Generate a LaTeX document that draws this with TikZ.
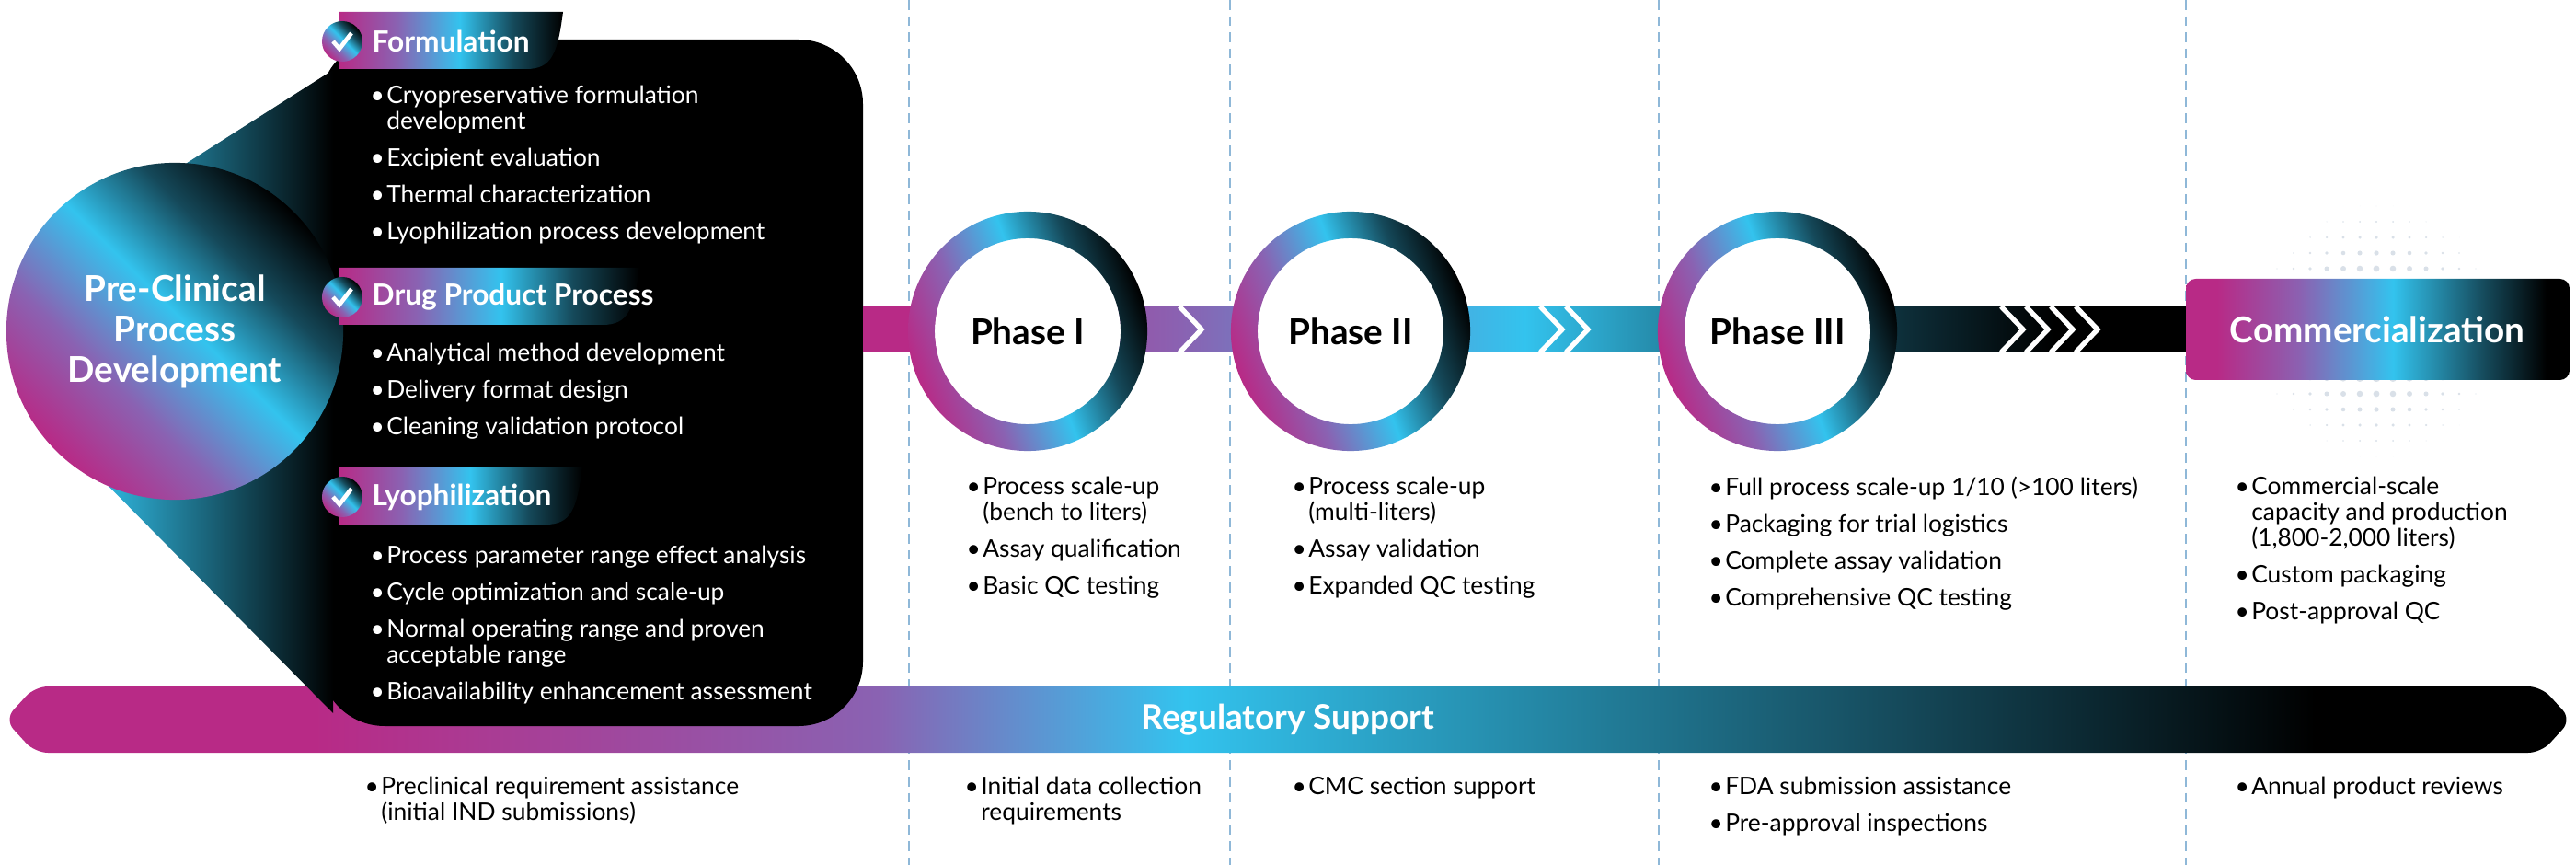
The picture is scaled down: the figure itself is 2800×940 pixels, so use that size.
\documentclass[tikz,border=0pt]{standalone}
\usepackage{fontspec}
\setmainfont{Lato}
\usetikzlibrary{positioning}
\definecolor{brandMag}{HTML}{B82A86}
\definecolor{brandPurp}{HTML}{8A62B2}
\definecolor{brandCyan}{HTML}{33C3EE}
\definecolor{brandTeal}{HTML}{15495A}
\definecolor{dotGray}{HTML}{D9E0E8}
\definecolor{dashBlue}{HTML}{8FB8D8}
\pgfdeclarehorizontalshading{regShade}{100bp}{color(0bp)=(brandMag); color(31bp)=(brandMag); color(42bp)=(brandPurp); color(48bp)=(brandCyan); color(62bp)=(brandTeal); color(70bp)=(black); color(100bp)=(black)}
\pgfdeclarehorizontalshading{barShade}{100bp}{color(0bp)=(brandMag); color(27bp)=(brandMag); color(37bp)=(brandPurp); color(50bp)=(brandCyan); color(61bp)=(brandTeal); color(70bp)=(black); color(100bp)=(black)}
\pgfdeclarehorizontalshading{boxShade}{100bp}{color(0bp)=(brandMag); color(29bp)=(brandMag); color(40bp)=(brandPurp); color(52bp)=(brandCyan); color(64bp)=(brandTeal); color(72bp)=(black); color(100bp)=(black)}
\pgfdeclarehorizontalshading{tabShade}{100bp}{color(0bp)=(brandMag); color(25bp)=(brandMag); color(38bp)=(brandPurp); color(52bp)=(brandCyan); color(64bp)=(brandTeal); color(75bp)=(black); color(100bp)=(black)}
\newcommand{\itm}[1]{\makebox[5pt][l]{\textbullet}#1}
\newcommand{\cnt}{\hspace*{5pt}}
\newcommand{\gap}{\\[3.4pt]}

\begin{document}
\begin{tikzpicture}[x=0.01cm, y=-0.01cm,
    list/.style={anchor=north west, align=left, inner sep=0pt, font=\fontsize{7.5}{8}\selectfont},
    wlist/.style={list, text=white},
    head/.style={anchor=west, inner sep=0pt, text=white, font=\bfseries\fontsize{9}{10}\selectfont},
    phase/.style={circle, minimum size=2.02cm, inner sep=0pt, font=\bfseries\fontsize{11}{12}\selectfont},
    ring/.style={shading=tabShade, shading angle=20, even odd rule},
    chev/.style={white, line width=1.5pt},
    divider/.style={dashBlue, line width=0.5pt, dash pattern=on 3pt off 2pt}]
    \useasboundingbox (0,0) rectangle (2800,940);
    % dashed dividers
    \foreach \x in {988,1337,1803,2376}
        \draw[divider] (\x,0) -- (\x,940);
    % regulatory bar
    \path[shading=regShade, rounded corners=4pt] (5,782) -- (38,746) -- (2762,746) -- (2795,782) -- (2762,818) -- (38,818) -- cycle;
    \node[text=white, font=\bfseries\fontsize{10.5}{12}\selectfont] (reg) at (1400,782) {Regulatory Support};
    % pre-clinical panel
    \fill[black, rounded corners=0.7cm] (348,43) rectangle (938,789);
    \shade[left color=brandCyan, right color=black] (120,230) -- (362,76) -- (362,775) -- (95,505) -- cycle;
    \node[circle, minimum size=3.66cm, inner sep=0pt, shading=tabShade, shading angle=45] (pre) at (190,360) {};
    \node[text=white, align=center, font=\bfseries\fontsize{11}{12.5}\selectfont] at (pre) {Pre-Clinical\\Process\\Development};
    % tabs
    \foreach \y/\xe/\name in {13/612/Formulation, 291/695/Drug Product Process, 508/633/Lyophilization}{
        \path[shading=tabShade] (368,\y) -- (\xe,\y) .. controls (\xe-6,\y+45) and (\xe-12,\y+62) .. (\xe-40,\y+62) -- (368,\y+62) -- cycle;
        \path[shading=tabShade, shading angle=45] (372,\y+32) circle[radius=0.22cm];
        \draw[white, line width=1.3pt] (362,\y+32) -- (369,\y+40) -- (382,\y+23);
        \node[head] at (404,\y+32) {\name};
    }
    \node[wlist] (formList) at (402,92) {\itm{Cryopreservative formulation}\\\cnt development\gap
        \itm{Excipient evaluation}\gap\itm{Thermal characterization}\gap\itm{Lyophilization process development}};
    \node[wlist] (drugList) at (402,372) {\itm{Analytical method development}\gap\itm{Delivery format design}\gap
        \itm{Cleaning validation protocol}};
    \node[wlist] (lyoList) at (402,592) {\itm{Process parameter range effect analysis}\gap\itm{Cycle optimization and scale-up}\gap
        \itm{Normal operating range and proven}\\\cnt acceptable range\gap\itm{Bioavailability enhancement assessment}};
    % main bar
    \path[shading=barShade] (938,333) rectangle (2376,383);
    \foreach \x in {1282, 1674, 1702, 2175, 2202, 2229, 2256}
        \draw[chev] (\x,333) -- (\x+24,358) -- (\x,383);
    % phase rings
    \foreach \c/\name/\lbl in {1117/ph1/Phase I, 1468/ph2/Phase II, 1932/ph3/Phase III}{
        \node[phase, fill=white] (\name) at (\c,360) {\lbl};
        \path[ring] (\name.center) circle[radius=1.3cm] (\name.center) circle[radius=1.01cm];
    }
    % commercialization
    \foreach \i in {-7,...,7}
        \foreach \j in {-8,...,8}{
            \pgfmathsetmacro\rr{max(0,0.065*(1-sqrt((\i/7.8)^2+(\j/8.4)^2)))}
            \fill[dotGray] (2583+18*\i,360+17*\j) circle[radius=\rr cm];
        }
    \path[shading=boxShade, rounded corners=3pt] (2376,303) rectangle (2793,413);
    \node[text=white, font=\bfseries\fontsize{11}{12}\selectfont] (com) at (2584,358) {Commercialization};
    % phase lists
    \node[list] (p1List) at (1050,517) {\itm{Process scale-up}\\\cnt(bench to liters)\gap\itm{Assay qualification}\gap\itm{Basic QC testing}};
    \node[list] (p2List) at (1404,517) {\itm{Process scale-up}\\\cnt(multi-liters)\gap\itm{Assay validation}\gap\itm{Expanded QC testing}};
    \node[list] (p3List) at (1857,517) {\itm{Full process scale-up 1/10 (>100 liters)}\gap\itm{Packaging for trial logistics}\gap
        \itm{Complete assay validation}\gap\itm{Comprehensive QC testing}};
    \node[list] (comList) at (2429,517) {\itm{Commercial-scale}\\\cnt capacity and production\\\cnt(1,800-2,000 liters)\gap
        \itm{Custom packaging}\gap\itm{Post-approval QC}};
    % regulatory lists
    \node[list] (r0List) at (396,843) {\itm{Preclinical requirement assistance}\\\cnt(initial IND submissions)};
    \node[list] (r1List) at (1048,843) {\itm{Initial data collection}\\\cnt requirements};
    \node[list] (r2List) at (1404,843) {\itm{CMC section support}};
    \node[list] (r3List) at (1857,843) {\itm{FDA submission assistance}\gap\itm{Pre-approval inspections}};
    \node[list] (r4List) at (2429,843) {\itm{Annual product reviews}};
\end{tikzpicture}
\end{document}
